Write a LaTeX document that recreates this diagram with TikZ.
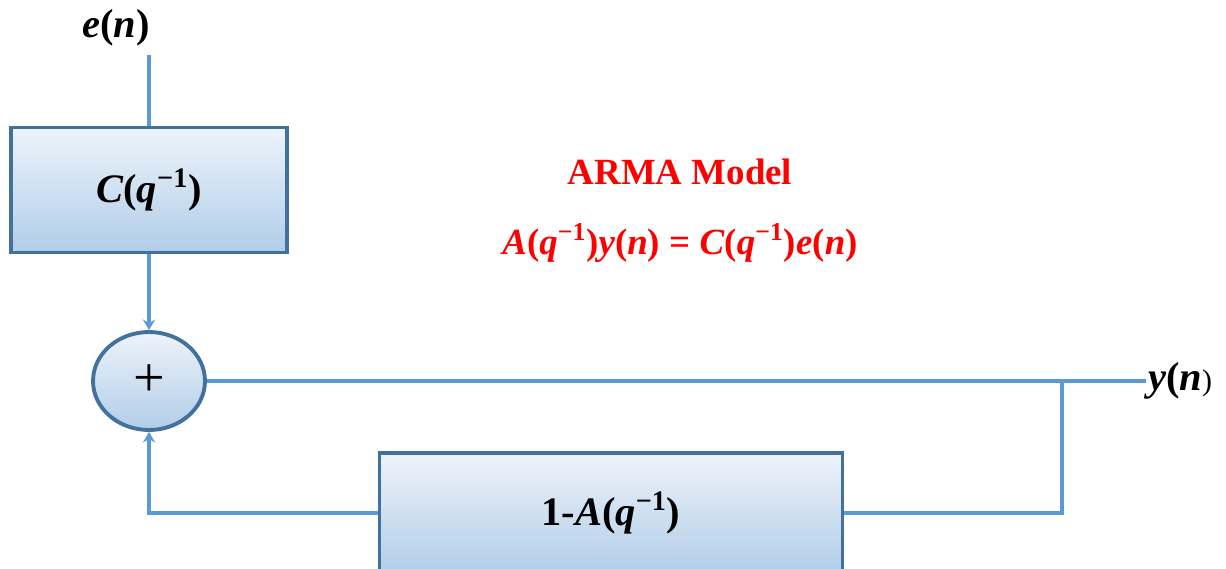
\documentclass[tikz,border=0pt]{standalone}
\usepackage{fontspec}
\setmainfont{Liberation Serif}
\usepackage{xcolor}
\usetikzlibrary{positioning,shapes.geometric,arrows.meta}
\definecolor{wireblue}{HTML}{5B9BD5}
\definecolor{edgeblue}{HTML}{41719C}
\definecolor{filltop}{HTML}{EDF3FA}
\definecolor{fillbot}{HTML}{B1CDE8}
\definecolor{armared}{HTML}{FF0000}
\newcommand{\bi}[1]{\textbf{\textit{#1}}}
\newcommand{\qinv}{(\bi{q}\textsuperscript{−1})}

\begin{document}
\begin{tikzpicture}[x=0.02cm,y=-0.02cm,
    every node/.style={font=\bfseries\fontsize{23}{27}\selectfont},
    block/.style={draw=edgeblue,line width=2.2pt,top color=filltop,bottom color=fillbot,inner sep=0pt},
    adder/.style={block,ellipse,minimum width=2.24cm,minimum height=1.96cm},
    wire/.style={wireblue,line width=2.3pt},
    feed/.style={wire,-{Stealth[length=6pt,width=7pt]}},
    note/.style={text=armared,font=\bfseries\fontsize{21}{25}\selectfont}]
    \useasboundingbox (0,0) rectangle (1226,568);
    \clip (0,0) rectangle (1226,568);
    % input and C block
    \node (en) at (116,28) {\bi{e}(\bi{n})};
    \coordinate (in) at (149,55);
    \node[block,minimum width=5.52cm,minimum height=2.5cm] (cbox) at (149,190) {\bi{C}\qinv};
    % summing junction
    \node[adder,font=\mdseries\fontsize{32}{36}\selectfont] (sum) at (149,381) {+};
    % feedback block
    \node[block,minimum width=9.26cm,minimum height=2.4cm] (abox) at (611,513) {1-\bi{A}\qinv};
    % output
    \coordinate (yout) at (1146,381);
    \coordinate (br) at (1062,381);
    \node[anchor=west,inner sep=1pt] (yn) at (yout) {\bi{y}(\bi{n}{\mdseries\fontsize{17}{20}\selectfont)}};
    % model text
    \node[note] (title) at (680,172) {ARMA Model};
    \node[note] (eq) at (680,243) {\bi{A}\qinv\bi{y}(\bi{n}) = \bi{C}\qinv\bi{e}(\bi{n})};
    \draw[wire] (in) -- (cbox);
    \draw[feed] (cbox) -- (sum);
    \draw[wire] (sum) -- (yout);
    \draw[wire] (br) |- (abox);
    \draw[feed] (abox) -| (sum);
\end{tikzpicture}
\end{document}
